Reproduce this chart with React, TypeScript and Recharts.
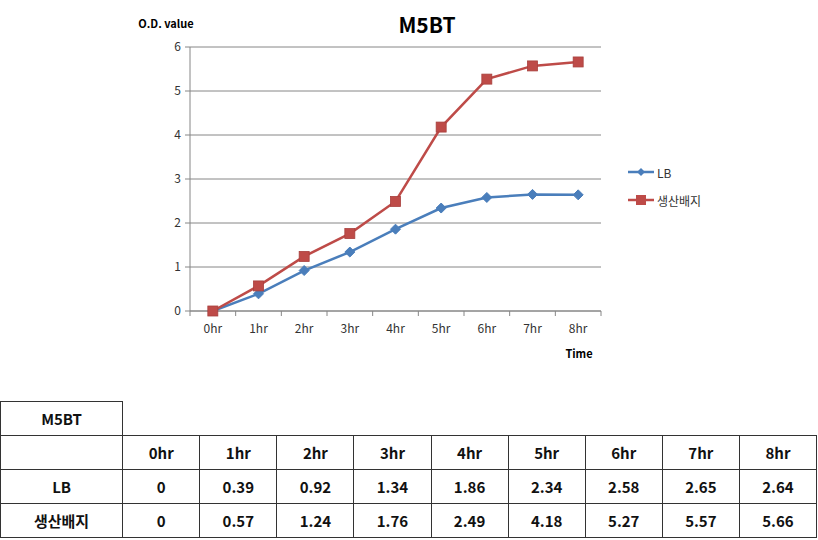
import React from "react";
import {
  LineChart,
  Line,
  XAxis,
  YAxis,
  CartesianGrid,
  Legend,
} from "recharts";

const hours = ["0hr", "1hr", "2hr", "3hr", "4hr", "5hr", "6hr", "7hr", "8hr"];
const lbValues = [0, 0.39, 0.92, 1.34, 1.86, 2.34, 2.58, 2.65, 2.64];
const mediumValues = [0, 0.57, 1.24, 1.76, 2.49, 4.18, 5.27, 5.57, 5.66];
const yTicks = [0, 1, 2, 3, 4, 5, 6];

const seriesNames = { lb: "LB", medium: "생산배지" };
const colors = { lb: "#4a7ebb", medium: "#be4b48" };

const FONT = "'Noto Sans CJK KR', 'Open Sans', sans-serif";

// plot area layout
const PLOT_LEFT = 190;
const PLOT_RIGHT = 601;
const PLOT_TOP = 47;
const PLOT_BOTTOM = 311;
const CHART_W = 818;
const CHART_H = 390;
const Y_AXIS_W = 40;
const BAND = (PLOT_RIGHT - PLOT_LEFT) / hours.length;

const data = hours.map((h, i) => ({
  hour: h,
  lb: lbValues[i],
  medium: mediumValues[i],
}));

const DiamondDot = (props: any) => {
  const { cx, cy, index } = props;
  if (cx == null || cy == null) return <g key={`d-${index}`} />;
  const r = 5;
  return (
    <path
      key={`d-${index}`}
      d={`M${cx},${cy - r} L${cx + r},${cy} L${cx},${cy + r} L${cx - r},${cy} Z`}
      fill={colors.lb}
      stroke={colors.lb}
    />
  );
};

const SquareDot = (props: any) => {
  const { cx, cy, index } = props;
  if (cx == null || cy == null) return <g key={`s-${index}`} />;
  const s = 10;
  return (
    <rect
      key={`s-${index}`}
      x={cx - s / 2}
      y={cy - s / 2}
      width={s}
      height={s}
      fill={colors.medium}
      stroke="#a8403d"
      strokeWidth={0.8}
    />
  );
};

const HourTick = (props: any) => {
  const { x, y, payload, index } = props;
  const isLast = index === hours.length - 1;
  return (
    <g>
      <line x1={x - BAND / 2} y1={y} x2={x - BAND / 2} y2={y + 5} stroke="#868686" />
      {isLast && (
        <line x1={x + BAND / 2} y1={y} x2={x + BAND / 2} y2={y + 5} stroke="#868686" />
      )}
      <text x={x} y={y + 22} textAnchor="middle" fontSize={12} fill="#333" fontFamily={FONT}>
        {payload.value}
      </text>
    </g>
  );
};

const LegendBox = () => (
  <div style={{ fontFamily: FONT, fontSize: 12, color: "#333" }}>
    {[
      { key: "lb", marker: "diamond" },
      { key: "medium", marker: "square" },
    ].map((item) => {
      const c = colors[item.key as "lb" | "medium"];
      return (
        <div key={item.key} style={{ display: "flex", alignItems: "center", height: 28 }}>
          <svg width={26} height={12} style={{ marginRight: 3 }}>
            <line x1={0} y1={6} x2={26} y2={6} stroke={c} strokeWidth={2.5} />
            {item.marker === "diamond" ? (
              <path d="M13,2 L17,6 L13,10 L9,6 Z" fill={c} />
            ) : (
              <rect x={8} y={1} width={10} height={10} fill={c} />
            )}
          </svg>
          <span>{seriesNames[item.key as "lb" | "medium"]}</span>
        </div>
      );
    })}
  </div>
);

const cellBorder = "1px solid #333";
const cellBase: React.CSSProperties = {
  border: cellBorder,
  textAlign: "center",
  fontWeight: "bold",
  fontSize: 15,
  padding: 0,
  height: 33,
};

const DataTable = () => (
  <table
    style={{
      position: "absolute",
      left: 0,
      top: 401,
      borderCollapse: "collapse",
      fontFamily: FONT,
      tableLayout: "fixed",
      width: 817,
      color: "#111",
    }}
  >
    <colgroup>
      <col style={{ width: 122 }} />
      {hours.map((h) => (
        <col key={h} style={{ width: 77 }} />
      ))}
    </colgroup>
    <tbody>
      <tr>
        <td style={cellBase}>M5BT</td>
        {hours.map((h) => (
          <td key={h} style={{ ...cellBase, border: "none" }} />
        ))}
      </tr>
      <tr>
        <td style={cellBase} />
        {hours.map((h) => (
          <td key={h} style={cellBase}>
            {h}
          </td>
        ))}
      </tr>
      <tr>
        <td style={cellBase}>{seriesNames.lb}</td>
        {lbValues.map((v, i) => (
          <td key={i} style={cellBase}>
            {v}
          </td>
        ))}
      </tr>
      <tr>
        <td style={cellBase}>{seriesNames.medium}</td>
        {mediumValues.map((v, i) => (
          <td key={i} style={cellBase}>
            {v}
          </td>
        ))}
      </tr>
    </tbody>
  </table>
);

export default function App() {
  return (
    <div
      style={{
        position: "absolute",
        left: 0,
        top: 0,
        width: CHART_W,
        height: 540,
        background: "#fff",
        fontFamily: FONT,
      }}
    >
      <LineChart
        width={CHART_W}
        height={CHART_H}
        data={data}
        margin={{
          top: PLOT_TOP,
          right: CHART_W - PLOT_RIGHT,
          left: PLOT_LEFT - Y_AXIS_W,
          bottom: CHART_H - PLOT_BOTTOM - 30,
        }}
      >
        <text x={427} y={33} textAnchor="middle" fontSize={21} fontWeight="bold" fill="#000" fontFamily={FONT}>
          M5BT
        </text>
        <text x={166} y={28} textAnchor="middle" fontSize={11} fontWeight="bold" fill="#000" fontFamily={FONT}>
          O.D. value
        </text>
        <text x={579} y={358} textAnchor="middle" fontSize={11} fontWeight="bold" fill="#000" fontFamily={FONT}>
          Time
        </text>
        <CartesianGrid vertical={false} stroke="#868686" />
        <XAxis
          dataKey="hour"
          height={30}
          stroke="#868686"
          tickLine={false}
          tickSize={0}
          tickMargin={0}
          padding={{ left: BAND / 2, right: BAND / 2 }}
          tick={<HourTick />}
          interval={0}
        />
        <YAxis
          width={Y_AXIS_W}
          domain={[0, 6]}
          ticks={yTicks}
          stroke="#868686"
          tickSize={5}
          tickMargin={4}
          tick={{ fontSize: 12, fill: "#333", fontFamily: FONT }}
        />
        <Legend
          layout="horizontal"
          align="center"
          verticalAlign="middle"
          wrapperStyle={{ left: 628, top: 158, width: 120, height: 60 }}
          content={() => <LegendBox />}
        />
        <Line
          type="linear"
          dataKey="lb"
          name={seriesNames.lb}
          stroke={colors.lb}
          strokeWidth={2.5}
          dot={DiamondDot}
          activeDot={false}
          isAnimationActive={false}
        />
        <Line
          type="linear"
          dataKey="medium"
          name={seriesNames.medium}
          stroke={colors.medium}
          strokeWidth={2.5}
          dot={SquareDot}
          activeDot={false}
          isAnimationActive={false}
        />
      </LineChart>
      <DataTable />
    </div>
  );
}
